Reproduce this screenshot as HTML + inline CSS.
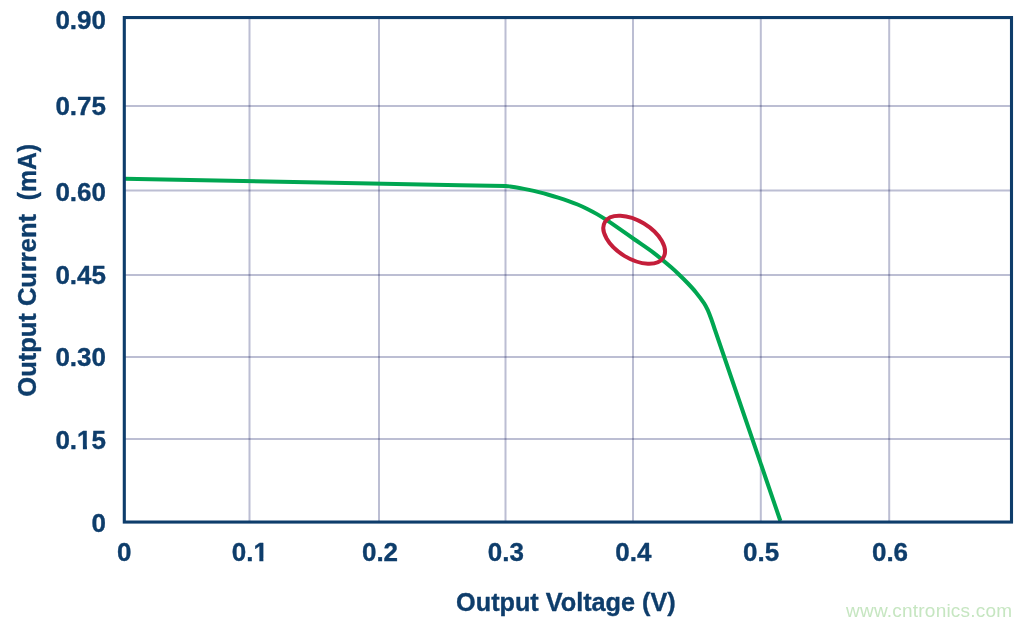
<!DOCTYPE html>
<html lang="en">
<head>
<meta charset="utf-8">
<title>Output Current vs Output Voltage</title>
<style>
html,body{margin:0;padding:0;background:#ffffff;}
body{width:1031px;height:626px;overflow:hidden;font-family:"Liberation Sans",sans-serif;}
svg{display:block;}
.lbl text{font-family:"Liberation Sans",sans-serif;font-weight:700;font-size:25.5px;fill:#0e3d6b;stroke:#0e3d6b;stroke-width:0.35px;stroke-linejoin:round;}
.grid line{stroke:#bcbed3;stroke-width:2;mix-blend-mode:multiply;}
</style>
</head>
<body>
<svg width="1031" height="626" viewBox="0 0 1031 626">
<rect x="0" y="0" width="1031" height="626" fill="#ffffff"/>
<g class="grid">
<line x1="249.50" y1="18" x2="249.50" y2="522" />
<line x1="379.00" y1="18" x2="379.00" y2="522" />
<line x1="505.50" y1="18" x2="505.50" y2="522" />
<line x1="633.00" y1="18" x2="633.00" y2="522" />
<line x1="760.80" y1="18" x2="760.80" y2="522" />
<line x1="889.20" y1="18" x2="889.20" y2="522" />
<line x1="125" y1="106.00" x2="1011" y2="106.00" />
<line x1="125" y1="190.45" x2="1011" y2="190.45" />
<line x1="125" y1="274.90" x2="1011" y2="274.90" />
<line x1="125" y1="357.00" x2="1011" y2="357.00" />
<line x1="125" y1="439.00" x2="1011" y2="439.00" />
</g>
<path d="M124.50 178.80 L320.00 182.50 L460.00 185.20 L505.60 185.90 C507.60 186.07 507.70 186.09 510.00 186.43 C512.30 186.77 516.22 187.36 519.40 187.93 C522.58 188.50 525.87 189.17 529.10 189.87 C532.33 190.57 535.57 191.34 538.80 192.15 C542.03 192.96 545.27 193.81 548.50 194.72 C551.73 195.62 554.97 196.57 558.20 197.58 C561.43 198.59 564.67 199.62 567.90 200.78 C571.13 201.94 574.37 203.15 577.60 204.51 C580.83 205.87 584.07 207.32 587.30 208.92 C590.53 210.52 593.88 212.31 597.00 214.11 C600.12 215.91 602.97 217.72 606.00 219.69 C609.03 221.66 610.43 222.60 615.20 225.90 C619.97 229.20 628.13 234.97 634.60 239.50 C641.07 244.03 647.77 248.35 654.00 253.10 C660.23 257.85 667.67 264.27 672.00 268.00 C676.33 271.73 677.33 272.92 680.00 275.50 C682.67 278.08 685.33 280.68 688.00 283.50 C690.67 286.32 693.33 289.13 696.00 292.40 C698.67 295.67 702.00 300.07 704.00 303.10 C706.00 306.13 706.73 307.78 708.00 310.60 C709.27 313.42 710.43 316.77 711.60 320.00 C712.77 323.23 713.87 326.67 715.00 330.00 L745.80 420.00 L780.40 521.00" fill="none" stroke="#00a651" stroke-width="4" stroke-linejoin="round"/>
<ellipse cx="634.15" cy="239.7" rx="34.2" ry="18.9" transform="rotate(31.3 634.15 239.7)" fill="none" stroke="#c41e3a" stroke-width="4"/>
<rect x="124.3" y="17.55" width="887.2" height="504.5" fill="none" stroke="#0e3d6b" stroke-width="3.1"/>
<g class="lbl">
<g transform="translate(106.0 29.00) scale(1.02 1)"><text text-anchor="end">0.90</text></g>
<g transform="translate(106.0 114.60) scale(1.02 1)"><text text-anchor="end">0.75</text></g>
<g transform="translate(106.0 200.90) scale(1.02 1)"><text text-anchor="end">0.60</text></g>
<g transform="translate(106.0 283.65) scale(1.02 1)"><text text-anchor="end">0.45</text></g>
<g transform="translate(106.0 366.40) scale(1.02 1)"><text text-anchor="end">0.30</text></g>
<g transform="translate(106.0 449.00) scale(1.02 1)"><text text-anchor="end">0.15</text><rect x="-28.77" y="-3.15" width="6.12" height="5.2" fill="#ffffff"/><rect x="-18.69" y="-3.15" width="5.40" height="5.2" fill="#ffffff"/></g>
<g transform="translate(106.0 531.90) scale(1.02 1)"><text text-anchor="end">0</text></g>
<g transform="translate(124.30 561.1) scale(1.02 1)"><text text-anchor="middle">0</text></g>
<g transform="translate(249.90 561.1) scale(1.02 1)"><text text-anchor="middle">0.1</text><rect x="3.14" y="-3.15" width="6.12" height="5.2" fill="#ffffff"/><rect x="13.21" y="-3.15" width="5.40" height="5.2" fill="#ffffff"/></g>
<g transform="translate(380.00 561.1) scale(1.02 1)"><text text-anchor="middle">0.2</text></g>
<g transform="translate(505.80 561.1) scale(1.02 1)"><text text-anchor="middle">0.3</text></g>
<g transform="translate(633.35 561.1) scale(1.02 1)"><text text-anchor="middle">0.4</text></g>
<g transform="translate(761.10 561.1) scale(1.02 1)"><text text-anchor="middle">0.5</text></g>
<g transform="translate(890.00 561.1) scale(1.02 1)"><text text-anchor="middle">0.6</text></g>
<g transform="translate(565.9 610.6) scale(0.99 1.03)"><text text-anchor="middle">Output Voltage (V)</text></g>
<text transform="translate(36.1 396.7) rotate(-90)" text-anchor="start">Output Current</text>
<text transform="translate(36.1 144.0) rotate(-90) scale(0.97 1)" text-anchor="end">(mA)</text>
</g>
<text x="929.2" y="616.6" text-anchor="middle" font-family="Liberation Sans, sans-serif" font-size="19" letter-spacing="0.21" fill="#c6e6c1">www.cntronics.com</text>
</svg>
</body>
</html>
